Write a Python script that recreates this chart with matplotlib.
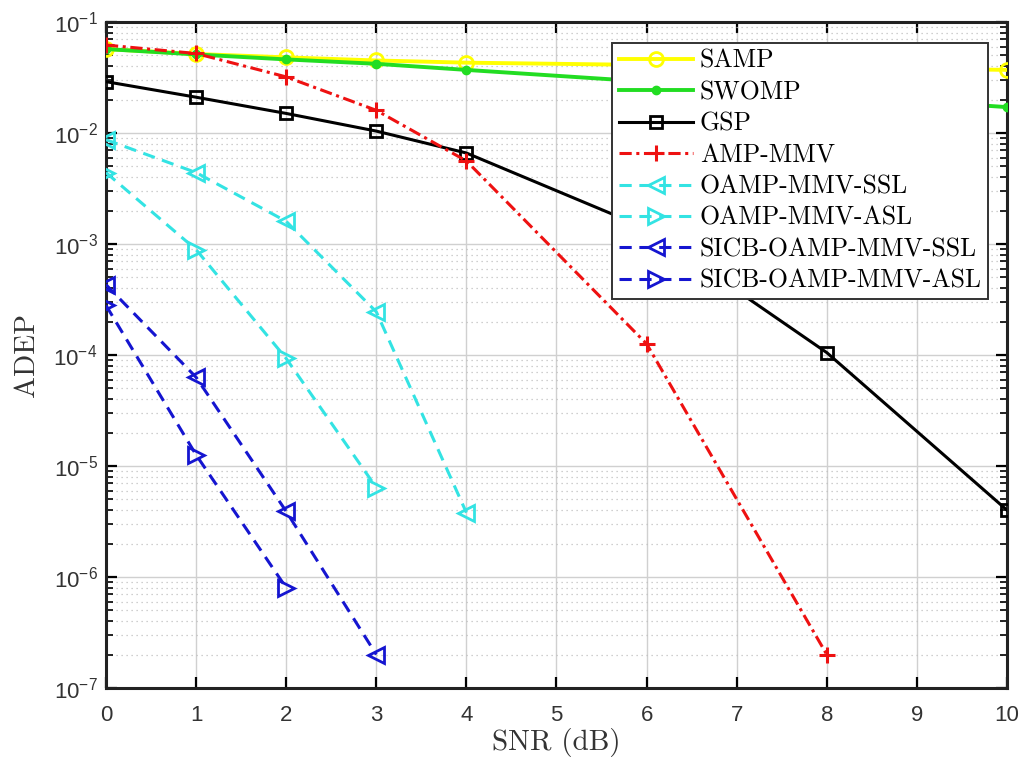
import matplotlib
matplotlib.use("Agg")
import matplotlib.pyplot as plt
from matplotlib.ticker import LogLocator, NullFormatter, LogFormatterMathtext

plt.rcParams["font.family"] = ["Liberation Sans", "DejaVu Sans"]
plt.rcParams["mathtext.fontset"] = "custom"
plt.rcParams["mathtext.rm"] = "Liberation Sans"
plt.rcParams["mathtext.it"] = "Liberation Sans:italic"
plt.rcParams["mathtext.bf"] = "Liberation Sans:bold"

# SNR grid (dB)
snr_full = [0, 1, 2, 3, 4, 6, 8, 10]
snr_amp = [0, 1, 2, 3, 4, 6, 8]
snr_oamp_ssl = [0, 1, 2, 3, 4]
snr_oamp_asl = [0, 1, 2, 3]
snr_sicb_ssl = [0, 1, 2, 3]
snr_sicb_asl = [0, 1, 2]

# ADEP values
samp = [0.057, 0.0515, 0.048, 0.045, 0.043, 0.041, 0.039, 0.037]
swomp = [0.057, 0.051, 0.046, 0.042, 0.037, 0.029, 0.022, 0.0171]
gsp = [0.029, 0.021, 0.015, 0.0104, 0.0066, 1.38e-3, 1.05e-4, 4.0e-6]
amp_mmv = [0.062, 0.052, 0.032, 0.016, 0.0056, 1.26e-4, 2.0e-7]
oamp_ssl = [0.0087, 0.0044, 0.0016, 2.45e-4, 3.8e-6]
oamp_asl = [0.0044, 8.9e-4, 9.3e-5, 6.4e-6]
sicb_ssl = [4.3e-4, 6.3e-5, 3.9e-6, 2.0e-7]
sicb_asl = [2.8e-4, 1.26e-5, 8.0e-7]

labels = ["SAMP", "SWOMP", "GSP", "AMP-MMV", "OAMP-MMV-SSL", "OAMP-MMV-ASL",
          "SICB-OAMP-MMV-SSL", "SICB-OAMP-MMV-ASL"]

yellow = "#ffff00"
green = "#22dd22"
red = "#ee1111"
cyan = "#33e3e3"
blue = "#1515d0"

fig = plt.figure(figsize=(10.21, 7.63), dpi=100)
ax = fig.add_axes([0.1038, 0.0983, 0.8825, 0.8729])

lw = 2.2
ms = 10
ax.plot(snr_full, samp, color=yellow, lw=2.8, marker="o", ms=ms, mfc="none",
        mew=2, label=labels[0], zorder=3)
ax.plot(snr_full, swomp, color=green, lw=2.8, marker="o", ms=6, mfc=green,
        mew=1, label=labels[1], zorder=3)
ax.plot(snr_full, gsp, color="black", lw=lw, marker="s", ms=9, mfc="none",
        mew=2, label=labels[2], zorder=3)
ax.plot(snr_amp, amp_mmv, color=red, lw=lw, ls=(0, (4, 1.5, 1, 1.5)),
        marker="+", ms=11, mew=2.2, label=labels[3], zorder=3)
ax.plot(snr_oamp_ssl, oamp_ssl, color=cyan, lw=lw, ls=(0, (4, 2.5)),
        marker="<", ms=ms + 2, mfc="none", mew=2, label=labels[4], zorder=3)
ax.plot(snr_oamp_asl, oamp_asl, color=cyan, lw=lw, ls=(0, (4, 2.5)),
        marker=">", ms=ms + 2, mfc="none", mew=2, label=labels[5], zorder=3)
ax.plot(snr_sicb_ssl, sicb_ssl, color=blue, lw=lw, ls=(0, (4, 2.5)),
        marker="<", ms=ms + 2, mfc="none", mew=2, label=labels[6], zorder=3)
ax.plot(snr_sicb_asl, sicb_asl, color=blue, lw=lw, ls=(0, (4, 2.5)),
        marker=">", ms=ms + 2, mfc="none", mew=2, label=labels[7], zorder=3)

ax.set_yscale("log")
ax.set_xlim(0, 10)
ax.set_ylim(1e-7, 1e-1)
ax.set_xticks(range(0, 11))
ax.yaxis.set_major_locator(LogLocator(base=10, numticks=10))
ax.yaxis.set_minor_locator(LogLocator(base=10, subs=range(2, 10), numticks=20))
ax.yaxis.set_major_formatter(LogFormatterMathtext())
ax.yaxis.set_minor_formatter(NullFormatter())

ax.grid(True, which="major", color="#d0d0d0", lw=1.0, ls="-")
ax.grid(True, which="minor", axis="y", color="#c0c0c0", lw=0.9, ls=(0, (1, 3)))
ax.set_axisbelow(True)

ax.tick_params(which="both", direction="in", top=True, right=True,
               labelsize=16, labelcolor="#333333")
ax.tick_params(axis="x", which="major", pad=12)
ax.tick_params(which="major", length=8, width=1.6)
ax.tick_params(axis="y", which="major", pad=6)
ax.tick_params(which="minor", length=5, width=1.2)
for s in ax.spines.values():
    s.set_linewidth(2.2)
    s.set_color("#222222")

ax.set_xlabel("SNR (dB)", fontfamily="cmr10", fontsize=21, labelpad=2,
              color="#333333")
ax.set_ylabel("ADEP", fontfamily="cmr10", fontsize=21, labelpad=10,
              color="#333333")

leg = ax.legend(loc="upper right", bbox_to_anchor=(0.979, 0.969),
                prop={"family": "cmr10", "size": 18.5}, frameon=True,
                fancybox=False, edgecolor="#333333", framealpha=1,
                handlelength=2.9, labelspacing=0.3, borderpad=0.25,
                handletextpad=0.25, borderaxespad=0.0)
leg.get_frame().set_linewidth(1.4)

fig.savefig("out.png", dpi=100)
